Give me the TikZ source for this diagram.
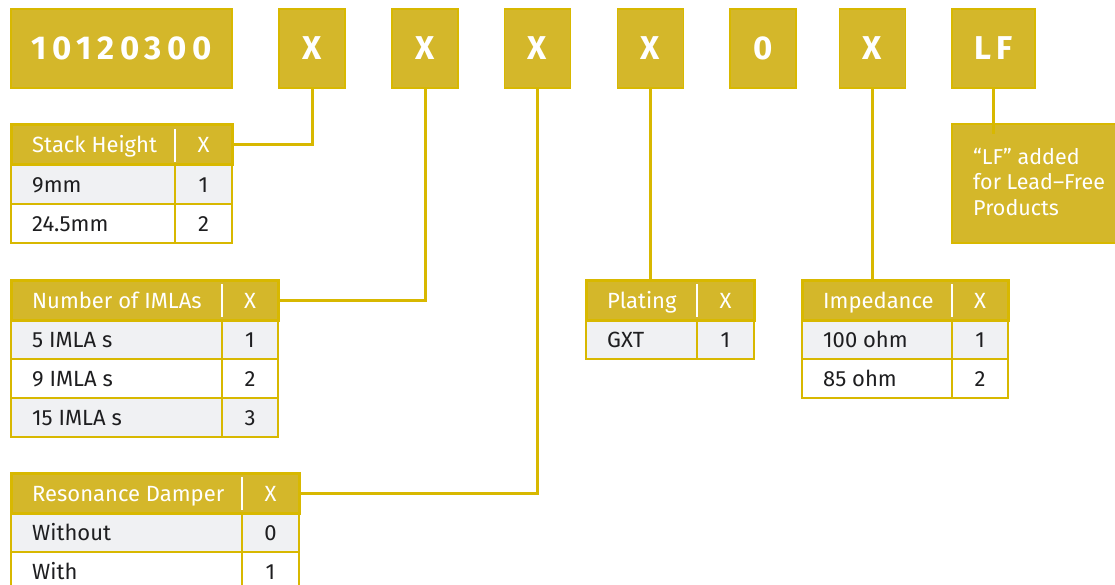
\documentclass[tikz,border=0pt]{standalone}
\usepackage{fontspec}
\setmainfont{Fira Sans}
\definecolor{gold}{RGB}{212,183,42}
\definecolor{goldline}{RGB}{216,184,0}
\definecolor{rowgrey}{RGB}{240,241,243}
\definecolor{ink}{RGB}{30,30,32}

\tikzset{
  codebox/.style={fill=gold, draw=goldline, line width=1.2pt, inner sep=0pt, outer sep=0pt,
    minimum height=79pt, text=white,
    font=\fontsize{33}{40}\selectfont\bfseries\addfontfeature{LetterSpace=17}},
  link/.style={draw=goldline, line width=3pt},
  headcell/.style={fill=gold, draw=goldline, line width=3pt, inner sep=0pt, outer sep=0pt, minimum height=40pt},
  headtext/.style={text=white, inner sep=0pt, font=\fontsize{22}{26}\selectfont},
  celltext/.style={text=ink, inner sep=0pt, font=\fontsize{22}{26}\selectfont},
  rowcell/.style={draw=goldline, line width=2.6pt},
  notetext/.style={text=white, inner sep=0pt, font=\fontsize{21.5}{25}\selectfont, anchor=base west},
}

% option table: name, left, top, column divider, right, header, rows (label/code/fill)
\newcommand\optable[7]{%
  \foreach \lab/\code/\shade [count=\i] in {#7} {
    \pgfmathsetmacro\rtop{#3+1+39*\i}
    \draw[rowcell, fill=\shade] (#2,\rtop) rectangle (#5,\rtop+39);
    \draw[rowcell] (#4,\rtop) -- (#4,\rtop+39);
    \node[celltext, anchor=base west] (#1-l\i) at (#2+21,\rtop+27.5) {\lab};
    \node[celltext, anchor=base] (#1-c\i) at ({(#4+#5)/2},\rtop+27.5) {\code};
  }
  \node[headcell, minimum width={#5pt-#2pt}, anchor=north west] (#1) at (#2,#3) {};
  \node[headtext, anchor=base west] (#1-h) at (#2+21,#3+28) {#6};
  \node[headtext, anchor=base] (#1-x) at ({(#4+#5)/2},#3+28) {X};
  \draw[white, line width=2pt] (#4,#3+4) -- (#4,#3+37);
}

\begin{document}
\begin{tikzpicture}[x=1pt, y=-1pt]
\useasboundingbox (0,0) rectangle (1115,585);
\clip (0,0) rectangle (1115,585);
\fill[white] (0,0) rectangle (1115,585);

% part number fields
\node[codebox, minimum width=221pt] (code) at (121.5,48.5) {10120300};
\node[codebox, minimum width=66pt] (s1) at (312,48.5) {X};
\node[codebox, minimum width=66pt] (s2) at (425,48.5) {X};
\node[codebox, minimum width=66pt] (s3) at (537.5,48.5) {X};
\node[codebox, minimum width=66pt] (s4) at (650.5,48.5) {X};
\node[codebox, minimum width=66pt] (zero) at (763,48.5) {0};
\node[codebox, minimum width=66pt] (s5) at (872.5,48.5) {X};
\node[codebox, minimum width=83pt] (lf) at (993.5,48.5) {LF};

% option tables
\optable{stack}{11}{125}{175}{232}{Stack Height}{9mm/1/rowgrey, 24.5mm/2/white}
\optable{imla}{11}{280}{222}{278}{Number of IMLAs}{5 IMLA s/1/rowgrey, 9 IMLA s/2/white, 15 IMLA s/3/rowgrey}
\optable{damper}{11}{473}{242}{299}{Resonance Damper}{Without/0/rowgrey, With/1/white}
\optable{plating}{586}{280}{697}{754}{Plating}{GXT/1/rowgrey}
\optable{imped}{802}{280}{952}{1008}{Impedance}{100 ohm/1/rowgrey, 85 ohm/2/white}

% lead-free note
\node[fill=gold, draw=goldline, line width=1.2pt, inner sep=0pt, outer sep=0pt,
      minimum width=175pt, minimum height=119pt, anchor=north west] (note) at (952,124) {};
\node[notetext] (note-1) at (973,165) {“LF” added};
\node[notetext] (note-2) at (973,190) {for Lead–Free};
\node[notetext] (note-3) at (973,215) {Products};

% connectors
\draw[link] (s1.south) |- (stack.east);
\draw[link] (s2.south) |- (imla.east);
\draw[link] (s3.south) |- (damper.east);
\draw[link] (s4.south) -- (s4.south |- plating.north);
\draw[link] (s5.south) -- (s5.south |- imped.north);
\draw[link] (lf.south) -- ([yshift=-10pt]lf.south |- note.north);
\end{tikzpicture}
\end{document}
